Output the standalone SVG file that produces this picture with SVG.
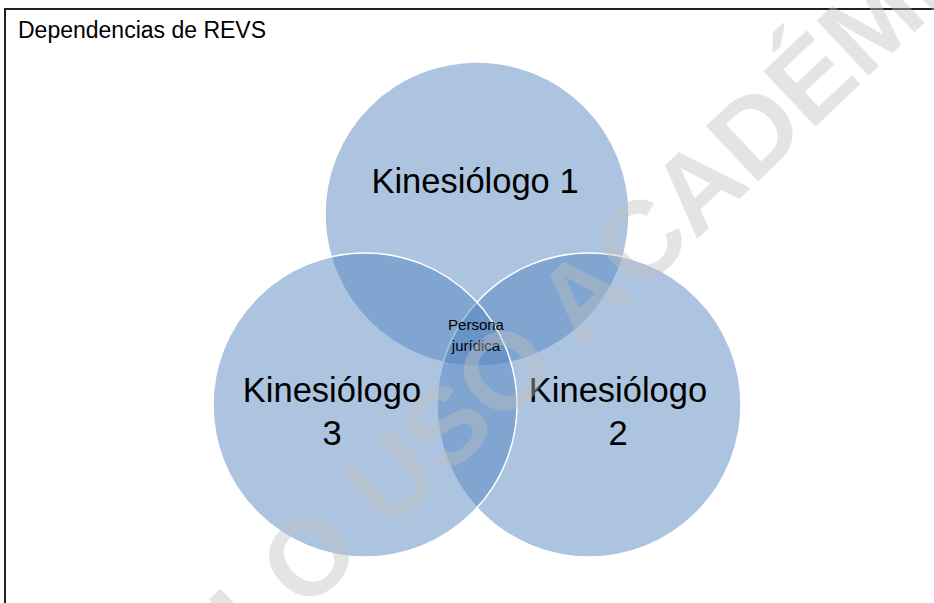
<svg xmlns="http://www.w3.org/2000/svg" width="934" height="603" viewBox="0 0 934 603">
<style>
.c{fill:#4f81bd;fill-opacity:0.47;stroke:#ffffff;stroke-width:1.5}
.lbl{font-family:"Liberation Sans",Arial,sans-serif;font-size:34.5px;fill:#000;text-anchor:middle}
.sm{font-family:"Liberation Sans",Arial,sans-serif;font-size:15px;fill:#000;text-anchor:middle}
.title{font-family:"Liberation Sans",Arial,sans-serif;font-size:23px;fill:#000}
.wm{font-family:"Liberation Sans",Arial,sans-serif;font-weight:bold;font-size:110px;fill:#bfbfbf;fill-opacity:0.42;text-anchor:middle}
</style>
<rect width="934" height="603" fill="#ffffff"/>
<g id="frame">
<path d="M5,603 V9 H934" fill="none" stroke="#222222" stroke-width="2"/>
<text class="title" x="18" y="38">Dependencias de REVS</text>
</g>
<g id="connectors"></g>
<g id="kinesiologo1">
<circle class="c" cx="477" cy="214" r="152"/>
<text class="lbl" x="475" y="193">Kinesiólogo 1</text>
</g>
<g id="kinesiologo2">
<circle class="c" cx="589" cy="405" r="152"/>
<text class="lbl" x="618" y="402">Kinesiólogo</text>
<text class="lbl" x="618" y="445">2</text>
</g>
<g id="kinesiologo3">
<circle class="c" cx="365" cy="405" r="152"/>
<text class="lbl" x="332" y="402">Kinesiólogo</text>
<text class="lbl" x="332" y="445">3</text>
</g>
<g id="persona-juridica">
<text class="sm" x="476" y="330">Persona</text>
<text class="sm" x="476" y="351">jurídica</text>
</g>
<g id="watermark">
<text class="wm" transform="translate(606,326) rotate(-43.6)" x="0" y="0">SOLO USO ACADÉMICO</text>
</g>
</svg>
